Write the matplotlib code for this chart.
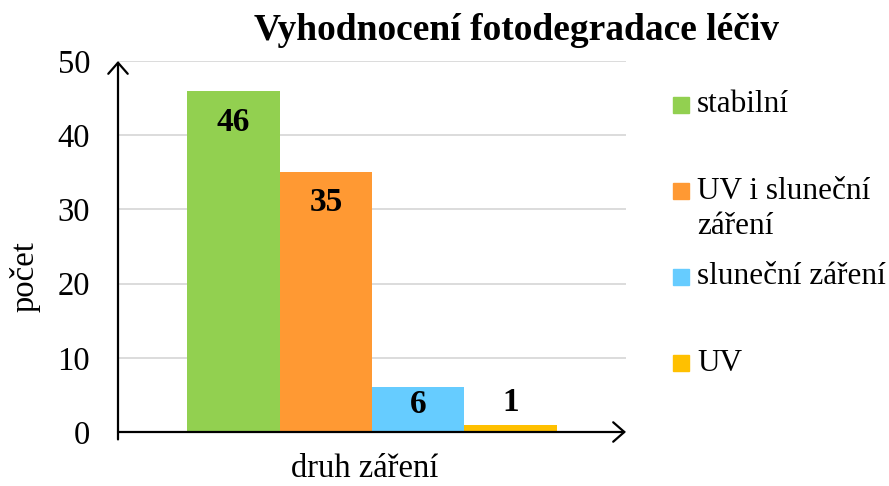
import matplotlib
matplotlib.use("Agg")
import matplotlib.pyplot as plt
from matplotlib.patches import Rectangle

plt.rcParams['font.family'] = ['Liberation Serif', 'DejaVu Serif']

# Data
labels = ['stabilní', 'UV i sluneční\nzáření', 'sluneční záření', 'UV']
counts = [46, 35, 6, 1]
colors = ['#92D050', '#FF9933', '#66CCFF', '#FFC000']
y_ticks = [0, 10, 20, 30, 40, 50]
title = 'Vyhodnocení fotodegradace léčiv'
xlabel = 'druh záření'
ylabel = 'počet'

W, H = 889, 486
fig = plt.figure(figsize=(W / 100, H / 100), dpi=100)
ax = fig.add_axes([118 / W, 54 / H, (626 - 118) / W, (432 - 61) / H])

pos = list(range(len(counts)))
ax.bar(pos, counts, width=1.0, color=colors, zorder=3)
ax.set_xlim(-1.25, 4.25)
ax.set_ylim(0, 50)

ax.set_yticks(y_ticks)
ax.set_xticks([])
ax.tick_params(axis='y', length=0, pad=20, labelsize=23.5)
ax.yaxis.grid(True, color='#D9D9D9', linewidth=1.3, zorder=0)
ax.set_axisbelow(True)
for s in ax.spines.values():
    s.set_visible(False)

# axis lines with open arrow heads
arrow = dict(arrowstyle='->,head_length=0.4,head_width=0.35', color='black',
             lw=1.6, mutation_scale=20, shrinkA=0, shrinkB=0)
ax.annotate('', xy=(0, 1), xytext=(0, -0.02), xycoords='axes fraction',
            arrowprops=arrow, annotation_clip=False, zorder=5)
ax.annotate('', xy=(1, 0), xytext=(0, 0), xycoords='axes fraction',
            arrowprops=arrow, annotation_clip=False, zorder=5)

# value labels
offsets = [-23, -22, -12, 16]
for x, v, off in zip(pos, counts, offsets):
    ax.annotate(str(v), xy=(x, v), xytext=(0, off), textcoords='offset points',
                ha='center', va='center', fontsize=24, fontweight='bold', zorder=6)

fig.text(516 / W, 1 - 30 / H, title, ha='center', va='center',
         fontsize=27, fontweight='bold')
fig.text(365 / W, 1 - 469 / H, xlabel, ha='center', va='center', fontsize=23.5)
fig.text(25 / W, 1 - 277 / H, ylabel, ha='center', va='center',
         rotation=90, fontsize=23.5)

# legend
for i, (lab, col) in enumerate(zip(labels, colors)):
    cy = 105 + 86 * i
    fig.add_artist(Rectangle((673 / W, 1 - (cy + 8) / H), 16 / W, 16 / H,
                             color=col, transform=fig.transFigure))
    for j, line in enumerate(lab.split('\n')):
        fig.text(697 / W, 1 - (cy + 35 * j) / H, line, ha='left',
                 va='center', fontsize=22.5)

fig.savefig('out.png', dpi=100)
